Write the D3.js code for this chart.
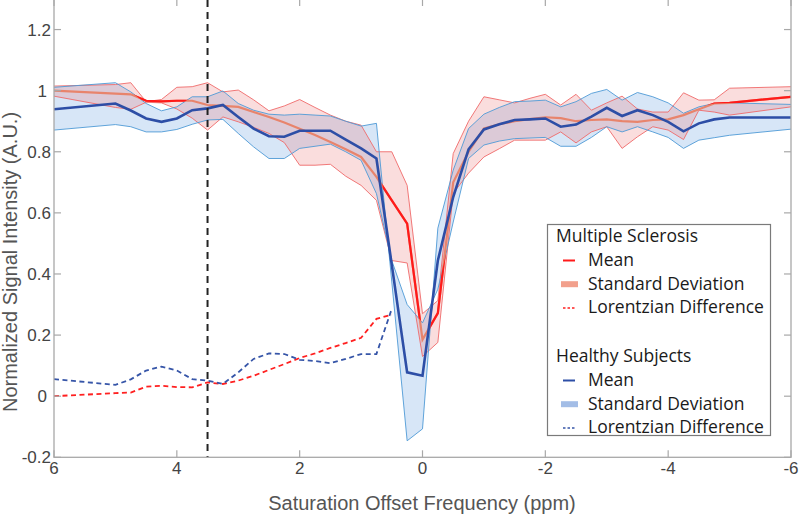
<!DOCTYPE html>
<html><head><meta charset="utf-8">
<script src="https://cdn.jsdelivr.net/npm/d3@7"></script>
<style>body{margin:0;background:#fff}svg{display:block}</style>
</head><body>
<svg id="c" width="800" height="515"></svg>
<script>
const offsets = [6,5,4.75,4.5,4.25,4,3.75,3.5,3.25,3,2.75,2.5,2.25,2,1.75,1.5,1.25,1,0.75,0.5,0.25,0,-0.25,-0.5,-0.75,-1,-1.25,-1.5,-1.75,-2,-2.25,-2.5,-2.75,-3,-3.25,-3.5,-3.75,-4,-4.25,-4.5,-4.75,-5,-6];
const msMean  = [1.0,0.99,0.988,0.967,0.965,0.967,0.967,0.953,0.95,0.947,0.93,0.914,0.896,0.875,0.855,0.832,0.808,0.783,0.718,0.641,0.565,0.185,0.272,0.70,0.80,0.876,0.89,0.90,0.907,0.913,0.91,0.90,0.904,0.906,0.90,0.898,0.904,0.906,0.92,0.939,0.958,0.96,0.98];
const msUpper = [1.015,1.02,1.026,0.964,0.971,1.011,1.013,1.026,0.996,1.002,0.97,0.934,0.95,0.971,0.945,0.92,0.90,0.887,0.80,0.80,0.69,0.27,0.313,0.794,0.90,0.98,0.97,0.96,0.975,0.988,0.953,0.988,0.936,0.96,0.982,0.94,0.93,0.93,0.993,0.969,0.97,1.008,1.013];
const msLower = [0.982,0.945,0.939,0.962,0.96,0.94,0.91,0.871,0.914,0.898,0.88,0.86,0.83,0.756,0.756,0.759,0.72,0.69,0.641,0.444,0.436,0.13,0.176,0.664,0.73,0.783,0.81,0.838,0.838,0.838,0.865,0.829,0.865,0.882,0.811,0.849,0.882,0.871,0.84,0.936,0.93,0.92,0.947];
const hsMean  = [0.939,0.958,0.935,0.909,0.898,0.909,0.936,0.942,0.953,0.914,0.876,0.851,0.849,0.869,0.869,0.869,0.84,0.811,0.778,0.43,0.078,0.067,0.444,0.652,0.808,0.873,0.89,0.904,0.906,0.909,0.882,0.889,0.915,0.944,0.917,0.936,0.92,0.898,0.867,0.893,0.906,0.912,0.912];
const hsUpper = [1.011,1.026,0.996,0.958,0.934,0.947,0.98,0.98,0.999,0.958,0.936,0.923,0.92,0.923,0.92,0.917,0.90,0.884,0.893,0.374,-0.146,-0.107,0.55,0.74,0.876,0.923,0.945,0.964,0.966,0.969,0.947,0.964,0.991,1.004,0.969,0.994,0.98,0.96,0.926,0.947,0.958,0.96,0.955];
const hsLower = [0.871,0.889,0.882,0.865,0.865,0.873,0.89,0.904,0.906,0.86,0.816,0.778,0.778,0.811,0.818,0.825,0.80,0.772,0.663,0.444,0.30,0.24,0.35,0.57,0.778,0.822,0.835,0.843,0.845,0.847,0.818,0.818,0.847,0.882,0.865,0.882,0.865,0.847,0.811,0.838,0.846,0.854,0.874];
const ldOffsets = [6,5,4.75,4.5,4.25,4,3.75,3.5,3.25,3,2.75,2.5,2.25,2,1.75,1.5,1.25,1,0.75,0.5];
const msLD = [0.0,0.01,0.012,0.031,0.034,0.03,0.029,0.045,0.04,0.051,0.067,0.086,0.105,0.125,0.14,0.158,0.174,0.191,0.253,0.267];
const hsLD = [0.056,0.037,0.055,0.084,0.097,0.084,0.056,0.051,0.04,0.078,0.122,0.14,0.138,0.119,0.115,0.108,0.122,0.138,0.138,0.286];
const xTicks = [6,4,2,0,-2,-4,-6];
const yTicks = [-0.2,0,0.2,0.4,0.6,0.8,1,1.2];
const markerOffset = 3.5;
const legendGroups = [
  {title:"Multiple Sclerosis", items:[["line","Mean"],["band","Standard Deviation"],["dash","Lorentzian Difference"]], key:"ms"},
  {title:"Healthy Subjects", items:[["line","Mean"],["band","Standard Deviation"],["dash","Lorentzian Difference"]], key:"hs"}
];

const C = {
  ms:{line:"#ff1a1a", soft:"#e8846c", edge:"#f06a6a", fill:"rgba(235,120,120,0.25)", legFill:"#f2a08c", dash:"#ff2020"},
  hs:{line:"#2d4ea6", edge:"#4f9ad6", fill:"rgba(150,190,235,0.38)", legFill:"#a3bde6", dash:"#3655a8"}
};

const svg = d3.select("#c");
const L = 54, R = 791, T = -1, B = 457.3;
const x = d3.scaleLinear().domain([6,-6]).range([L,R]);
const y = d3.scaleLinear().domain([-0.2,1.3]).range([B,T]);

const idx = d3.range(offsets.length);
const line = arr => d3.line().x(i=>x(offsets[i])).y(i=>y(arr[i]))(idx);
const area = (lo,hi) => d3.area().x(i=>x(offsets[i])).y0(i=>y(lo[i])).y1(i=>y(hi[i]))(idx);
const ldIdx = d3.range(ldOffsets.length);
const ldLine = arr => d3.line().x(i=>x(ldOffsets[i])).y(i=>y(arr[i]))(ldIdx);

const defs = svg.append("defs");
const mask = defs.append("mask").attr("id","outHS");
mask.append("rect").attr("x",0).attr("y",0).attr("width",800).attr("height",515).attr("fill","#fff");
mask.append("path").attr("d",area(hsLower,hsUpper)).attr("fill","#000");
defs.append("clipPath").attr("id","plot").append("rect").attr("x",L).attr("y",-10).attr("width",R-L).attr("height",B+10);

const g = svg.append("g").attr("clip-path","url(#plot)");
g.append("path").attr("d",area(hsLower,hsUpper)).attr("fill",C.hs.fill).attr("stroke","none");
g.append("path").attr("d",area(msLower,msUpper)).attr("fill",C.ms.fill).attr("stroke","none");
[[msUpper,C.ms.edge],[msLower,C.ms.edge],[hsUpper,C.hs.edge],[hsLower,C.hs.edge]].forEach(([a,c])=>{
  g.append("path").attr("d",line(a)).attr("fill","none").attr("stroke",c).attr("stroke-width",1).attr("stroke-opacity",0.9);
});
g.append("path").attr("d",line(msMean)).attr("fill","none").attr("stroke",C.ms.soft).attr("stroke-width",2.2);
g.append("path").attr("d",line(msMean)).attr("fill","none").attr("stroke",C.ms.line).attr("stroke-width",2.2).attr("mask","url(#outHS)");
g.append("path").attr("d",line(hsMean)).attr("fill","none").attr("stroke",C.hs.line).attr("stroke-width",2.6);
g.append("path").attr("d",ldLine(msLD)).attr("fill","none").attr("stroke",C.ms.dash).attr("stroke-width",1.8).attr("stroke-dasharray","5,3.5");
g.append("path").attr("d",ldLine(hsLD)).attr("fill","none").attr("stroke",C.hs.dash).attr("stroke-width",1.8).attr("stroke-dasharray","5,3.5");
g.append("line").attr("x1",x(markerOffset)).attr("x2",x(markerOffset)).attr("y1",0).attr("y2",B)
  .attr("stroke","#222").attr("stroke-width",2).attr("stroke-dasharray","7,5");

const axC = "#a8a8a8";
const ax = svg.append("g");
ax.append("rect").attr("x",L).attr("y",T).attr("width",R-L).attr("height",B-T).attr("fill","none").attr("stroke",axC).attr("stroke-width",1.3);
const tl = 7;
xTicks.forEach(t=>{
  ax.append("line").attr("x1",x(t)).attr("x2",x(t)).attr("y1",B).attr("y2",B-tl).attr("stroke",axC).attr("stroke-width",1.2);
  ax.append("line").attr("x1",x(t)).attr("x2",x(t)).attr("y1",T).attr("y2",T+tl).attr("stroke",axC).attr("stroke-width",1.2);
  ax.append("text").attr("x",x(t)).attr("y",474).attr("text-anchor","middle")
    .attr("font-family","Liberation Sans, Arial, sans-serif").attr("font-size",17).attr("fill","#444").text(d3.format("")(t).replace("−","-"));
});
yTicks.forEach(t=>{
  ax.append("line").attr("x1",L).attr("x2",L+tl).attr("y1",y(t)).attr("y2",y(t)).attr("stroke",axC).attr("stroke-width",1.2);
  ax.append("line").attr("x1",R).attr("x2",R-tl).attr("y1",y(t)).attr("y2",y(t)).attr("stroke",axC).attr("stroke-width",1.2);
  const lab = d3.format("")(t).replace("−","-");
  ax.append("text").attr("x", lab.length>1 ? 51 : 47).attr("y",y(t)).attr("dy","0.36em").attr("text-anchor","end")
    .attr("font-family","Liberation Sans, Arial, sans-serif").attr("font-size",17).attr("fill","#444").text(lab);
});
svg.append("text").attr("x",422).attr("y",510).attr("text-anchor","middle")
  .attr("font-family","Liberation Sans, Arial, sans-serif").attr("font-size",20).attr("fill","#555")
  .text("Saturation Offset Frequency (ppm)");
svg.append("text").attr("transform","translate(17,262) rotate(-90)").attr("text-anchor","middle")
  .attr("font-family","Liberation Sans, Arial, sans-serif").attr("font-size",20).attr("fill","#555")
  .text("Normalized Signal Intensity (A.U.)");

const lg = svg.append("g");
lg.append("rect").attr("x",547.5).attr("y",224.5).attr("width",223).attr("height",211).attr("fill","#fff").attr("stroke","#7a7a7a").attr("stroke-width",1.2);
const font = "Open Sans, Noto Sans, sans-serif";
legendGroups.forEach((grp,gi)=>{
  const base = 242 + gi*120;
  lg.append("text").attr("x",556).attr("y",base).attr("font-family",font).attr("font-size",17.5).attr("fill","#1a1a1a").text(grp.title);
  const col = C[grp.key];
  grp.items.forEach((it,ii)=>{
    const by = base + 24 + ii*23.7;
    const my = by - 5.5;
    if(it[0]==="line") lg.append("line").attr("x1",563).attr("x2",575).attr("y1",my).attr("y2",my).attr("stroke",col.line).attr("stroke-width",2);
    if(it[0]==="band") lg.append("rect").attr("x",561).attr("y",my-3).attr("width",17).attr("height",6).attr("fill",col.legFill);
    if(it[0]==="dash") lg.append("line").attr("x1",563).attr("x2",576).attr("y1",my).attr("y2",my).attr("stroke",col.dash).attr("stroke-width",1.5).attr("stroke-dasharray","2.5,2");
    lg.append("text").attr("x",588).attr("y",by).attr("font-family",font).attr("font-size",17.5).attr("fill","#1a1a1a").text(it[1]);
  });
});
</script>
</body></html>
